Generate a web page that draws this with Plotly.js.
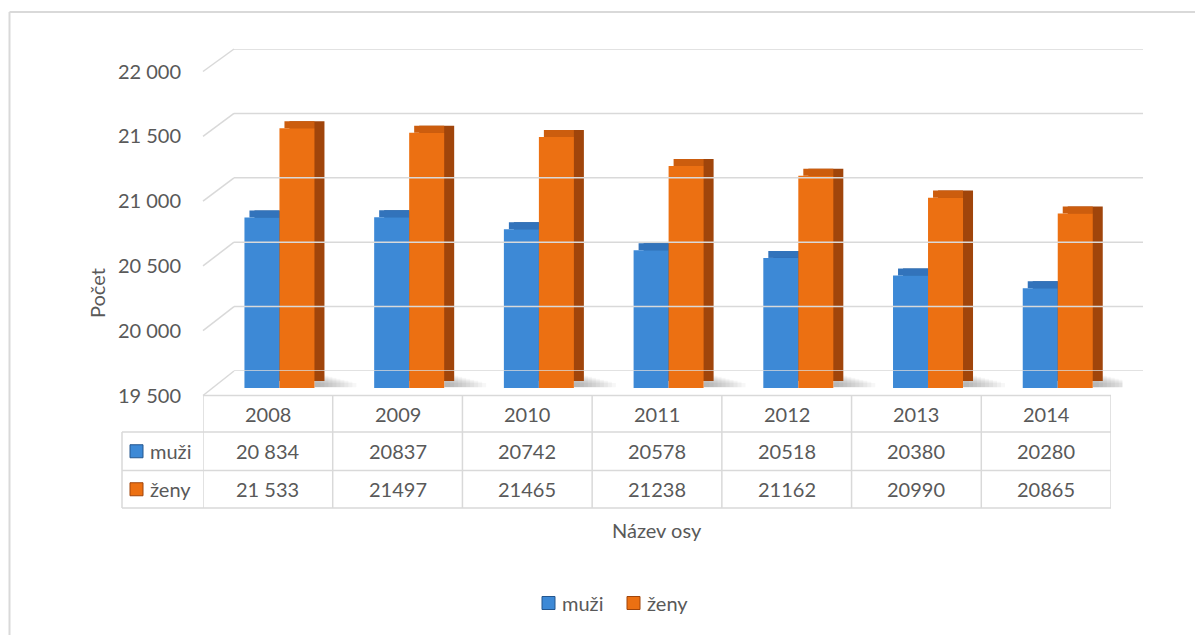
<!DOCTYPE html>
<html>
<head>
<meta charset="utf-8">
<script src="https://cdn.plot.ly/plotly-3.0.1.min.js"></script>
<style>html,body{margin:0;padding:0;background:#fff;}#chart{width:1195px;height:635px;}</style>
</head>
<body>
<div id="chart"></div>
<script>
// ---- data ----
const years = ['2008', '2009', '2010', '2011', '2012', '2013', '2014'];
const seriesNames = ['muži', 'ženy'];
const muzi = [20834, 20837, 20742, 20578, 20518, 20380, 20280];
const zeny = [21533, 21497, 21465, 21238, 21162, 20990, 20865];
// the source table shows a thousands space only in the first column
const spacedColumn = [true, false, false, false, false, false, false];
const yTicks = [19500, 20000, 20500, 21000, 21500, 22000];
const yAxisTitle = 'Počet';
const xAxisTitle = 'Název osy';

// ---- geometry helpers (layout only) ----
const W = 1195, H = 635;
const px = x => x / W;
const py = y => 1 - y / H;
const yMin = 19500, yMax = 22000;
const FY0 = 395.5, FY1 = 71.5;   // front edge (labels)
const BY0 = 371, BY1 = 49;       // back wall (gridlines)
const fy = v => FY0 + (v - yMin) / (yMax - yMin) * (FY1 - FY0);
const by = v => BY0 + (v - yMin) / (yMax - yMin) * (BY1 - BY0);

const BW = 35 / 129.7;    // bar width in category units
const DX = 10 / 129.7;    // depth offset (x)
const DY = 55;            // depth offset in value units (≈7px)
const PXU = 908 / 7;      // px per category on the bar axis

const font = 'Lato, "Open Sans", "Noto Sans", sans-serif';
const txt = '#595959';
const grid = '#d9d9d9';

const colors = {
  muzi: {front: '#3d89d6', top: '#3273bb', side: '#24568e'},
  zeny: {front: '#ec7012', top: '#cc5d0e', side: '#a0450b'}
};

function fmt(v, spaced) {
  return spaced ? String(v).replace(/\B(?=(\d{3})+(?!\d))/g, ' ') : String(v);
}

function barSet(vals, c, name, off) {
  return [
    {type: 'bar', x: years, y: vals.map(v => v - yMin), base: vals.map(() => yMin + DY),
     offset: off + DX, width: BW, marker: {color: c.side, line: {width: 0}},
     showlegend: false, hoverinfo: 'skip', xaxis: 'x', yaxis: 'y'},
    {type: 'bar', x: years, y: vals.map(() => DY), base: vals,
     offset: off + DX / 2, width: BW - DX / 2, marker: {color: c.top, line: {width: 0}},
     showlegend: false, hoverinfo: 'skip', xaxis: 'x', yaxis: 'y'},
    {type: 'bar', name: name, x: years, y: vals.map(v => v - yMin), base: vals.map(() => yMin),
     offset: off, width: BW, marker: {color: c.front, line: {width: 0}},
     showlegend: false, xaxis: 'x', yaxis: 'y'}
  ];
}

const traces = [
  ...barSet(muzi, colors.muzi, seriesNames[0], -BW),
  ...barSet(zeny, colors.zeny, seriesNames[1], 0),
  // anchors for the back-wall and front/table subplots
  {type: 'scatter', x: [0.5], y: [null], xaxis: 'x2', yaxis: 'y2', showlegend: false, hoverinfo: 'skip'},
  {type: 'scatter', x: [years[0]], y: [null], xaxis: 'x3', yaxis: 'y3', showlegend: false, hoverinfo: 'skip'}
];

const shapes = [];
const annotations = [];
const line = {color: grid, width: 1.5};

// outer chart border (left and top visible)
shapes.push({type: 'line', xref: 'paper', yref: 'paper', x0: px(9.5), x1: px(9.5), y0: py(12), y1: 0, line: {color: grid, width: 2}});
shapes.push({type: 'line', xref: 'paper', yref: 'paper', x0: px(9.5), x1: 1, y0: py(12), y1: py(12), line: {color: grid, width: 2}});

// back-wall gridlines and diagonal connectors to the front labels
yTicks.forEach(v => {
  shapes.push({type: 'line', xref: 'x2', yref: 'y2', x0: 0, x1: 1, y0: v, y1: v, line: line, layer: 'below'});
  shapes.push({type: 'line', xref: 'paper', yref: 'paper', x0: px(203), y0: py(fy(v)), x1: px(234), y1: py(by(v)), line: line, layer: 'below'});
});

// soft floor shadows right of each pair (stacked translucent wedge strips)
years.forEach((yr, i) => {
  for (let k = 1; k <= 10; k++) {
    const w = 4 * k + 2;
    shapes.push({type: 'rect', xref: 'x', yref: 'y', layer: 'below',
      x0: i + BW, x1: i + BW + w / PXU,
      y0: yMin + 6, y1: yMin + 120 - k * 8,
      fillcolor: 'rgba(0,0,0,0.03)', line: {width: 0}});
  }
});

// ---- data table ----
const T0 = 395.5, T1 = 432, T2 = 470.5, T3 = 508;
shapes.push({type: 'line', xref: 'paper', yref: 'paper', x0: px(203), x1: px(1111), y0: py(T0), y1: py(T0), line: line});
[T1, T2, T3].forEach(t => shapes.push({type: 'line', xref: 'paper', yref: 'paper', x0: px(122), x1: px(1111), y0: py(t), y1: py(t), line: line}));
shapes.push({type: 'line', xref: 'paper', yref: 'paper', x0: px(122), x1: px(122), y0: py(T1), y1: py(T3), line: line});
for (let i = 0; i <= years.length; i++) {
  shapes.push({type: 'line', xref: 'x3', yref: 'paper', x0: i - 0.5, x1: i - 0.5, y0: py(T0), y1: py(T3), line: line});
}
const tfont = {family: font, size: 20, color: txt};
const ann = o => Object.assign({showarrow: false, font: tfont, xanchor: 'center', yanchor: 'middle'}, o);
years.forEach((yr, i) => {
  annotations.push(ann({xref: 'x3', yref: 'paper', x: i, y: py((T0 + T1) / 2), text: yr}));
  annotations.push(ann({xref: 'x3', yref: 'paper', x: i, y: py((T1 + T2) / 2), text: fmt(muzi[i], spacedColumn[i])}));
  annotations.push(ann({xref: 'x3', yref: 'paper', x: i, y: py((T2 + T3) / 2), text: fmt(zeny[i], spacedColumn[i])}));
});
[[seriesNames[0], colors.muzi, (T1 + T2) / 2], [seriesNames[1], colors.zeny, (T2 + T3) / 2]].forEach(([n, c, yc]) => {
  shapes.push({type: 'rect', xref: 'paper', yref: 'paper', x0: px(130), x1: px(143), y0: py(yc + 6.5), y1: py(yc - 6.5), fillcolor: c.front, line: {color: c.side, width: 1}});
  annotations.push(ann({xref: 'paper', yref: 'paper', x: px(148), y: py(yc), xanchor: 'left', text: n}));
});

// axis titles
annotations.push(ann({xref: 'paper', yref: 'paper', x: px(97), y: py(293), text: yAxisTitle, textangle: -90}));
annotations.push(ann({xref: 'paper', yref: 'paper', x: px(657), y: py(530), text: xAxisTitle}));

// legend (bottom centre)
[[seriesNames[0], colors.muzi, 542], [seriesNames[1], colors.zeny, 627]].forEach(([n, c, x]) => {
  shapes.push({type: 'rect', xref: 'paper', yref: 'paper', x0: px(x), x1: px(x + 13), y0: py(603 + 6.5), y1: py(603 - 6.5), fillcolor: c.front, line: {color: c.side, width: 1}});
  annotations.push(ann({xref: 'paper', yref: 'paper', x: px(x + 18), y: py(603), xanchor: 'left', text: n}));
});

const hidden = {showgrid: false, zeroline: false, showticklabels: false, showline: false, ticks: ''};

const layout = {
  width: W, height: H,
  margin: {l: 0, r: 0, t: 0, b: 0},
  paper_bgcolor: '#ffffff', plot_bgcolor: 'rgba(0,0,0,0)',
  showlegend: false,
  barmode: 'overlay',
  separators: ', ',
  font: {family: font, color: txt, size: 20},
  xaxis: Object.assign({type: 'category', domain: [px(214.6), px(1122.6)], range: [-0.5, 6.5], anchor: 'y'}, hidden),
  yaxis: Object.assign({domain: [py(388), py(68.6)], range: [yMin, yMax], anchor: 'x'}, hidden),
  xaxis2: Object.assign({domain: [px(234), px(1143)], range: [0, 1], anchor: 'y2'}, hidden),
  yaxis2: Object.assign({domain: [py(BY0), py(BY1)], range: [yMin, yMax], anchor: 'x2'}, hidden),
  xaxis3: Object.assign({type: 'category', domain: [px(203), px(1111)], range: [-0.5, 6.5], anchor: 'y3'}, hidden),
  yaxis3: {domain: [py(FY0), py(FY1)], range: [yMin, yMax], anchor: 'x3', side: 'left', showgrid: false, zeroline: false,
           showline: false, ticks: '', tickmode: 'array', tickvals: yTicks, tickformat: ',d', ticklabelstandoff: 21,
           tickfont: {family: font, size: 20, color: txt}},
  shapes: shapes,
  annotations: annotations
};

Plotly.newPlot('chart', traces, layout, {staticPlot: true, displayModeBar: false});
</script>
</body>
</html>
